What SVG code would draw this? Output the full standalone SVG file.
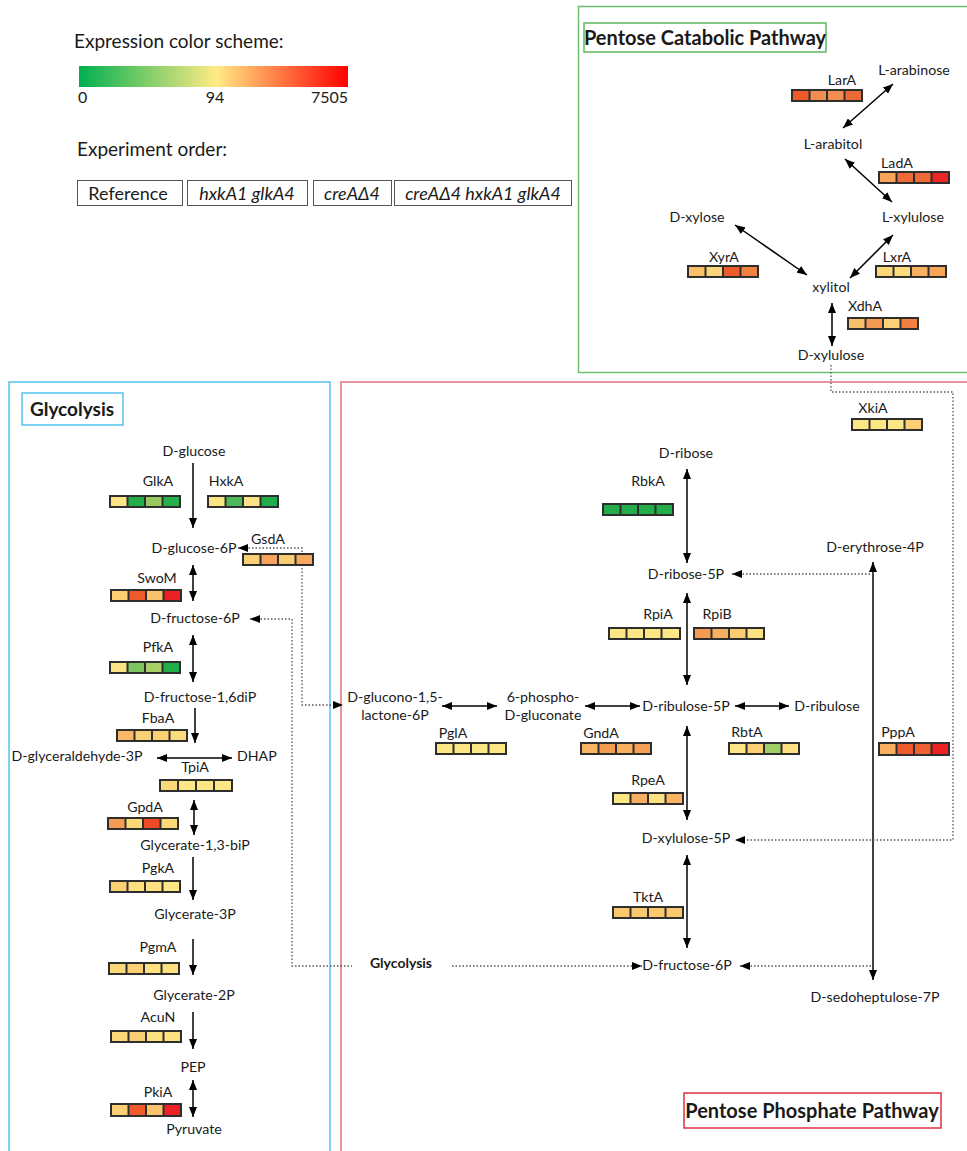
<svg xmlns="http://www.w3.org/2000/svg" width="967" height="1151" viewBox="0 0 967 1151">
<style>
.t{font-family:Lato,"Liberation Sans",sans-serif;font-size:14.2px;fill:#1a1a1a;text-anchor:middle}
.s{text-anchor:start}
.e{text-anchor:end}
.i{font-style:italic}
.bd{font-weight:bold}
.bf{fill:#2e2e2e}
.ln{stroke:#000;stroke-width:1.5;fill:none}
.dt{stroke:#555;stroke-width:1.3;stroke-dasharray:1.5 2;fill:none}
.lb{fill:#fff;stroke:#555;stroke-width:1}
</style>
<defs>
<linearGradient id="grad" x1="0" y1="0" x2="1" y2="0">
<stop offset="0" stop-color="#00b050"/>
<stop offset="0.51" stop-color="#ffeb84"/>
<stop offset="1" stop-color="#ff0000"/>
</linearGradient>
<marker id="ah" viewBox="0 0 10 8" refX="10" refY="4" markerWidth="10" markerHeight="8" markerUnits="userSpaceOnUse" orient="auto-start-reverse">
<path d="M0,0 L10,4 L0,8 z" fill="#000"/>
</marker>
</defs>
<rect width="967" height="1151" fill="#fff"/>

<!-- frames -->
<g id="frames">
<rect x="578.5" y="6.5" width="500" height="366" fill="none" stroke="#6cc070" stroke-width="1.5"/>
<rect x="9" y="382" width="321" height="820" fill="none" stroke="#55c2ee" stroke-width="1.5"/>
<rect x="341" y="382" width="700" height="820" fill="none" stroke="#e0707a" stroke-width="1.5"/>
</g>

<!-- legend -->
<g id="legend">
<text class="t s" x="74" y="48" style="font-size:19px">Expression color scheme:</text>
<rect x="79" y="66" width="269" height="21" fill="url(#grad)"/>
<text class="t s" x="78" y="103" style="font-size:16px">0</text>
<text class="t" x="215" y="103" style="font-size:16px">94</text>
<text class="t e" x="348" y="103" style="font-size:16px">7505</text>
<text class="t s" x="77" y="156" style="font-size:19px">Experiment order:</text>
<rect class="lb" x="77.5" y="180.5" width="105" height="25"/>
<rect class="lb" x="187.5" y="180.5" width="120" height="25"/>
<rect class="lb" x="313.5" y="180.5" width="78" height="25"/>
<rect class="lb" x="394.5" y="180.5" width="177" height="25"/>
<text class="t" x="128" y="200" style="font-size:18px">Reference</text>
<text class="t i" x="247" y="200" style="font-size:18px">hxkA1 glkA4</text>
<text class="t i" x="352" y="200" style="font-size:18px">creAΔ4</text>
<text class="t i" x="483" y="200" style="font-size:18px">creAΔ4 hxkA1 glkA4</text>
</g>

<!-- titles -->
<g id="title-pcp">
<rect x="584" y="23" width="242" height="29" fill="#fff" stroke="#5cb85c" stroke-width="1.5"/>
<text class="t bd" x="705" y="45" style="font-size:20px">Pentose Catabolic Pathway</text>
</g>
<g id="title-gly">
<rect x="22" y="393" width="101" height="32" fill="#fff" stroke="#55c2ee" stroke-width="1.5"/>
<text class="t bd" x="72" y="416" style="font-size:19px">Glycolysis</text>
</g>
<g id="title-ppp">
<rect x="684" y="1093" width="257" height="35" fill="#fff" stroke="#e03040" stroke-width="1.5"/>
<text class="t bd" x="812" y="1118" style="font-size:20px">Pentose Phosphate Pathway</text>
</g>

<!-- connectors -->
<g id="connectors">
<line class="ln" x1="843" y1="128" x2="893" y2="84" marker-start="url(#ah)" marker-end="url(#ah)"/>
<line class="ln" x1="845" y1="159" x2="892" y2="202" marker-start="url(#ah)" marker-end="url(#ah)"/>
<line class="ln" x1="735" y1="225" x2="807" y2="275" marker-start="url(#ah)" marker-end="url(#ah)"/>
<line class="ln" x1="850" y1="278" x2="893" y2="235" marker-start="url(#ah)" marker-end="url(#ah)"/>
<line class="ln" x1="832" y1="303" x2="832" y2="346" marker-start="url(#ah)" marker-end="url(#ah)"/>

<line class="ln" x1="193" y1="463" x2="193" y2="528" marker-end="url(#ah)"/>
<line class="ln" x1="193" y1="565" x2="193" y2="601" marker-start="url(#ah)" marker-end="url(#ah)"/>
<line class="ln" x1="193" y1="635" x2="193" y2="682" marker-start="url(#ah)" marker-end="url(#ah)"/>
<line class="ln" x1="195" y1="708" x2="195" y2="743" marker-end="url(#ah)"/>
<line class="ln" x1="157" y1="758" x2="232" y2="758" marker-start="url(#ah)" marker-end="url(#ah)"/>
<line class="ln" x1="194" y1="800" x2="194" y2="835" marker-start="url(#ah)" marker-end="url(#ah)"/>
<line class="ln" x1="193" y1="857" x2="193" y2="900" marker-end="url(#ah)"/>
<line class="ln" x1="193" y1="939" x2="193" y2="975" marker-end="url(#ah)"/>
<line class="ln" x1="193" y1="1012" x2="193" y2="1049" marker-end="url(#ah)"/>
<line class="ln" x1="193" y1="1080" x2="193" y2="1117" marker-start="url(#ah)" marker-end="url(#ah)"/>

<line class="ln" x1="687" y1="469" x2="687" y2="563" marker-start="url(#ah)" marker-end="url(#ah)"/>
<line class="ln" x1="687" y1="593" x2="687" y2="685" marker-start="url(#ah)" marker-end="url(#ah)"/>
<line class="ln" x1="687" y1="726" x2="687" y2="820" marker-start="url(#ah)" marker-end="url(#ah)"/>
<line class="ln" x1="687" y1="855" x2="687" y2="948" marker-start="url(#ah)" marker-end="url(#ah)"/>
<line class="ln" x1="442" y1="706" x2="497" y2="706" marker-start="url(#ah)" marker-end="url(#ah)"/>
<line class="ln" x1="585" y1="706" x2="640" y2="706" marker-start="url(#ah)" marker-end="url(#ah)"/>
<line class="ln" x1="735" y1="706" x2="789" y2="706" marker-start="url(#ah)" marker-end="url(#ah)"/>
<line class="ln" x1="873" y1="562" x2="873" y2="980" marker-start="url(#ah)" marker-end="url(#ah)"/>

<path class="dt" d="M238,548 L302,548 L302,705 L343,705" marker-start="url(#ah)" marker-end="url(#ah)"/>
<path class="dt" d="M250,619 L292,619 L292,966 L352,966" marker-start="url(#ah)"/>
<path class="dt" d="M452,966 L642,966" marker-end="url(#ah)"/>
<path class="dt" d="M732,574 L873,574" marker-start="url(#ah)"/>
<path class="dt" d="M831,365 L831,392 L953,392 L953,840 L735,840" marker-end="url(#ah)"/>
<path class="dt" d="M740,966 L872,966" marker-start="url(#ah)"/>
</g>

<!-- pentose catabolic nodes -->
<g id="L-arabinose"><text class="t" x="914" y="75">L-arabinose</text></g>
<g id="L-arabitol"><text class="t" x="833" y="149">L-arabitol</text></g>
<g id="D-xylose"><text class="t" x="697" y="222">D-xylose</text></g>
<g id="L-xylulose"><text class="t" x="913" y="222">L-xylulose</text></g>
<g id="xylitol"><text class="t" x="831" y="292">xylitol</text></g>
<g id="D-xylulose"><text class="t" x="831" y="360">D-xylulose</text></g>

<g id="LarA"><text class="t" x="842" y="85">LarA</text>
<g transform="translate(791,89)"><rect class="bf" width="72" height="13"/><rect x="2" y="2" width="15.5" height="9" fill="#ee5a2a"/><rect x="19.5" y="2" width="15.5" height="9" fill="#f28f4e"/><rect x="37" y="2" width="15.5" height="9" fill="#f28f4e"/><rect x="54.5" y="2" width="15.5" height="9" fill="#ee6a35"/></g></g>
<g id="LadA"><text class="t" x="897" y="168">LadA</text>
<g transform="translate(878,171)"><rect class="bf" width="72" height="13"/><rect x="2" y="2" width="15.5" height="9" fill="#f6a55a"/><rect x="19.5" y="2" width="15.5" height="9" fill="#f06a35"/><rect x="37" y="2" width="15.5" height="9" fill="#f06a35"/><rect x="54.5" y="2" width="15.5" height="9" fill="#ec2525"/></g></g>
<g id="XyrA"><text class="t" x="724" y="262">XyrA</text>
<g transform="translate(687,265)"><rect class="bf" width="72" height="13"/><rect x="2" y="2" width="15.5" height="9" fill="#f8c068"/><rect x="19.5" y="2" width="15.5" height="9" fill="#fbd57a"/><rect x="37" y="2" width="15.5" height="9" fill="#ee5a2a"/><rect x="54.5" y="2" width="15.5" height="9" fill="#f28040"/></g></g>
<g id="LxrA"><text class="t" x="897" y="262">LxrA</text>
<g transform="translate(875,265)"><rect class="bf" width="72" height="13"/><rect x="2" y="2" width="15.5" height="9" fill="#fcd878"/><rect x="19.5" y="2" width="15.5" height="9" fill="#fcdc7c"/><rect x="37" y="2" width="15.5" height="9" fill="#f8b060"/><rect x="54.5" y="2" width="15.5" height="9" fill="#f8a558"/></g></g>
<g id="XdhA"><text class="t" x="865" y="311">XdhA</text>
<g transform="translate(847,317)"><rect class="bf" width="72" height="13"/><rect x="2" y="2" width="15.5" height="9" fill="#f9c26a"/><rect x="19.5" y="2" width="15.5" height="9" fill="#f59a52"/><rect x="37" y="2" width="15.5" height="9" fill="#fbd27a"/><rect x="54.5" y="2" width="15.5" height="9" fill="#f28040"/></g></g>

<!-- glycolysis nodes -->
<g id="D-glucose"><text class="t" x="194" y="456">D-glucose</text></g>
<g id="D-glucose-6P"><text class="t" x="194" y="553">D-glucose-6P</text></g>
<g id="D-fructose-6P-g"><text class="t" x="195" y="623">D-fructose-6P</text></g>
<g id="D-fructose-16diP"><text class="t" x="200" y="702">D-fructose-1,6diP</text></g>
<g id="D-glyceraldehyde-3P"><text class="t" x="77" y="761">D-glyceraldehyde-3P</text></g>
<g id="DHAP"><text class="t s" x="237" y="761">DHAP</text></g>
<g id="Glycerate-13-biP"><text class="t" x="195" y="850">Glycerate-1,3-biP</text></g>
<g id="Glycerate-3P"><text class="t" x="195" y="919">Glycerate-3P</text></g>
<g id="Glycerate-2P"><text class="t" x="194" y="1000">Glycerate-2P</text></g>
<g id="PEP"><text class="t" x="193" y="1072">PEP</text></g>
<g id="Pyruvate"><text class="t" x="194" y="1134">Pyruvate</text></g>

<g id="GlkA"><text class="t" x="158" y="486">GlkA</text>
<g transform="translate(109,495)"><rect class="bf" width="72" height="13"/><rect x="2" y="2" width="15.5" height="9" fill="#fbe486"/><rect x="19.5" y="2" width="15.5" height="9" fill="#22ac4a"/><rect x="37" y="2" width="15.5" height="9" fill="#97c95e"/><rect x="54.5" y="2" width="15.5" height="9" fill="#25b04c"/></g></g>
<g id="HxkA"><text class="t" x="226" y="486">HxkA</text>
<g transform="translate(207,495)"><rect class="bf" width="72" height="13"/><rect x="2" y="2" width="15.5" height="9" fill="#fbe486"/><rect x="19.5" y="2" width="15.5" height="9" fill="#4cb85a"/><rect x="37" y="2" width="15.5" height="9" fill="#fbe486"/><rect x="54.5" y="2" width="15.5" height="9" fill="#1fae4a"/></g></g>
<g id="GsdA"><text class="t" x="268" y="544">GsdA</text>
<g transform="translate(242,553)"><rect class="bf" width="72" height="13"/><rect x="2" y="2" width="15.5" height="9" fill="#fbd074"/><rect x="19.5" y="2" width="15.5" height="9" fill="#f6a25a"/><rect x="37" y="2" width="15.5" height="9" fill="#fbcd72"/><rect x="54.5" y="2" width="15.5" height="9" fill="#f6a85c"/></g></g>
<g id="SwoM"><text class="t" x="157" y="583">SwoM</text>
<g transform="translate(110,589)"><rect class="bf" width="72" height="13"/><rect x="2" y="2" width="15.5" height="9" fill="#fbd074"/><rect x="19.5" y="2" width="15.5" height="9" fill="#ee5a2a"/><rect x="37" y="2" width="15.5" height="9" fill="#fbc46c"/><rect x="54.5" y="2" width="15.5" height="9" fill="#ec2025"/></g></g>
<g id="PfkA"><text class="t" x="158" y="652">PfkA</text>
<g transform="translate(109,661)"><rect class="bf" width="72" height="13"/><rect x="2" y="2" width="15.5" height="9" fill="#fbe486"/><rect x="19.5" y="2" width="15.5" height="9" fill="#7ec460"/><rect x="37" y="2" width="15.5" height="9" fill="#a8d068"/><rect x="54.5" y="2" width="15.5" height="9" fill="#1fae4a"/></g></g>
<g id="FbaA"><text class="t" x="158" y="723">FbaA</text>
<g transform="translate(116,729)"><rect class="bf" width="72" height="13"/><rect x="2" y="2" width="15.5" height="9" fill="#f9b865"/><rect x="19.5" y="2" width="15.5" height="9" fill="#fbd074"/><rect x="37" y="2" width="15.5" height="9" fill="#fbd074"/><rect x="54.5" y="2" width="15.5" height="9" fill="#fbdc7c"/></g></g>
<g id="TpiA"><text class="t" x="195" y="772">TpiA</text>
<g transform="translate(159,779)"><rect class="bf" width="74" height="13"/><rect x="2" y="2" width="16" height="9" fill="#fbd878"/><rect x="20" y="2" width="16" height="9" fill="#fde684"/><rect x="38" y="2" width="16" height="9" fill="#fde684"/><rect x="56" y="2" width="16" height="9" fill="#fde684"/></g></g>
<g id="GpdA"><text class="t" x="145" y="812">GpdA</text>
<g transform="translate(107,817)"><rect class="bf" width="72" height="13"/><rect x="2" y="2" width="15.5" height="9" fill="#f59a52"/><rect x="19.5" y="2" width="15.5" height="9" fill="#fbd878"/><rect x="37" y="2" width="15.5" height="9" fill="#ee4a28"/><rect x="54.5" y="2" width="15.5" height="9" fill="#fbd878"/></g></g>
<g id="PgkA"><text class="t" x="158" y="873">PgkA</text>
<g transform="translate(109,880)"><rect class="bf" width="72" height="13"/><rect x="2" y="2" width="15.5" height="9" fill="#fbd074"/><rect x="19.5" y="2" width="15.5" height="9" fill="#fde080"/><rect x="37" y="2" width="15.5" height="9" fill="#fde080"/><rect x="54.5" y="2" width="15.5" height="9" fill="#fde684"/></g></g>
<g id="PgmA"><text class="t" x="158" y="952">PgmA</text>
<g transform="translate(108,962)"><rect class="bf" width="72" height="13"/><rect x="2" y="2" width="15.5" height="9" fill="#fbd878"/><rect x="19.5" y="2" width="15.5" height="9" fill="#fbd074"/><rect x="37" y="2" width="15.5" height="9" fill="#fde080"/><rect x="54.5" y="2" width="15.5" height="9" fill="#fde080"/></g></g>
<g id="AcuN"><text class="t" x="158" y="1022">AcuN</text>
<g transform="translate(110,1030)"><rect class="bf" width="72" height="13"/><rect x="2" y="2" width="15.5" height="9" fill="#fbd878"/><rect x="19.5" y="2" width="15.5" height="9" fill="#fbcd72"/><rect x="37" y="2" width="15.5" height="9" fill="#fde080"/><rect x="54.5" y="2" width="15.5" height="9" fill="#fde080"/></g></g>
<g id="PkiA"><text class="t" x="158" y="1097">PkiA</text>
<g transform="translate(110,1103)"><rect class="bf" width="72" height="14"/><rect x="2" y="2" width="15.5" height="10" fill="#fbd074"/><rect x="19.5" y="2" width="15.5" height="10" fill="#ee5a2a"/><rect x="37" y="2" width="15.5" height="10" fill="#fbc46c"/><rect x="54.5" y="2" width="15.5" height="10" fill="#ec2025"/></g></g>

<!-- PPP nodes -->
<g id="D-ribose"><text class="t" x="686" y="458">D-ribose</text></g>
<g id="D-erythrose-4P"><text class="t" x="875" y="552">D-erythrose-4P</text></g>
<g id="D-ribose-5P"><text class="t" x="686" y="579">D-ribose-5P</text></g>
<g id="D-glucono-lactone-6P"><text class="t" x="395" y="702">D-glucono-1,5-</text><text class="t" x="395" y="720">lactone-6P</text></g>
<g id="6-phospho-D-gluconate"><text class="t" x="543" y="702">6-phospho-</text><text class="t" x="543" y="720">D-gluconate</text></g>
<g id="D-ribulose-5P"><text class="t" x="686" y="711">D-ribulose-5P</text></g>
<g id="D-ribulose"><text class="t" x="827" y="711">D-ribulose</text></g>
<g id="D-xylulose-5P"><text class="t" x="686" y="843">D-xylulose-5P</text></g>
<g id="D-fructose-6P-p"><text class="t" x="687" y="970">D-fructose-6P</text></g>
<g id="D-sedoheptulose-7P"><text class="t" x="875" y="1002">D-sedoheptulose-7P</text></g>
<g id="Glycolysis-link"><text class="t bd" x="401" y="968" style="font-size:14px">Glycolysis</text></g>

<g id="XkiA"><text class="t" x="873" y="413">XkiA</text>
<g transform="translate(851,418)"><rect class="bf" width="72" height="13"/><rect x="2" y="2" width="15.5" height="9" fill="#fde684"/><rect x="19.5" y="2" width="15.5" height="9" fill="#fde684"/><rect x="37" y="2" width="15.5" height="9" fill="#fde684"/><rect x="54.5" y="2" width="15.5" height="9" fill="#fbd074"/></g></g>
<g id="RbkA"><text class="t" x="648" y="486">RbkA</text>
<g transform="translate(602,503)"><rect class="bf" width="72" height="13"/><rect x="2" y="2" width="15.5" height="9" fill="#22ac4a"/><rect x="19.5" y="2" width="15.5" height="9" fill="#22ac4a"/><rect x="37" y="2" width="15.5" height="9" fill="#22ac4a"/><rect x="54.5" y="2" width="15.5" height="9" fill="#22ac4a"/></g></g>
<g id="RpiA"><text class="t" x="658" y="619">RpiA</text>
<g transform="translate(608,627)"><rect class="bf" width="73" height="13"/><rect x="2" y="2" width="15.5" height="9" fill="#fde684"/><rect x="19.5" y="2" width="15.5" height="9" fill="#fde684"/><rect x="37" y="2" width="15.5" height="9" fill="#fde684"/><rect x="54.5" y="2" width="16.5" height="9" fill="#fde684"/></g></g>
<g id="RpiB"><text class="t" x="717" y="619">RpiB</text>
<g transform="translate(693,627)"><rect class="bf" width="72" height="13"/><rect x="2" y="2" width="15.5" height="9" fill="#f59a52"/><rect x="19.5" y="2" width="15.5" height="9" fill="#f8b060"/><rect x="37" y="2" width="15.5" height="9" fill="#fbcd72"/><rect x="54.5" y="2" width="15.5" height="9" fill="#fde080"/></g></g>
<g id="PglA"><text class="t" x="453" y="738">PglA</text>
<g transform="translate(435,742)"><rect class="bf" width="72" height="13"/><rect x="2" y="2" width="15.5" height="9" fill="#fde684"/><rect x="19.5" y="2" width="15.5" height="9" fill="#fde684"/><rect x="37" y="2" width="15.5" height="9" fill="#fde684"/><rect x="54.5" y="2" width="15.5" height="9" fill="#fde684"/></g></g>
<g id="GndA"><text class="t" x="601" y="738">GndA</text>
<g transform="translate(580,742)"><rect class="bf" width="72" height="13"/><rect x="2" y="2" width="15.5" height="9" fill="#f8b462"/><rect x="19.5" y="2" width="15.5" height="9" fill="#f59a52"/><rect x="37" y="2" width="15.5" height="9" fill="#f8b060"/><rect x="54.5" y="2" width="15.5" height="9" fill="#f5a055"/></g></g>
<g id="RbtA"><text class="t" x="747" y="737">RbtA</text>
<g transform="translate(728,742)"><rect class="bf" width="72" height="13"/><rect x="2" y="2" width="15.5" height="9" fill="#fde684"/><rect x="19.5" y="2" width="15.5" height="9" fill="#fbd074"/><rect x="37" y="2" width="15.5" height="9" fill="#a0cf64"/><rect x="54.5" y="2" width="15.5" height="9" fill="#fde080"/></g></g>
<g id="PppA"><text class="t" x="898" y="737">PppA</text>
<g transform="translate(878,742)"><rect class="bf" width="72" height="14"/><rect x="2" y="2" width="15.5" height="10" fill="#f8b060"/><rect x="19.5" y="2" width="15.5" height="10" fill="#ee5a2a"/><rect x="37" y="2" width="15.5" height="10" fill="#f06030"/><rect x="54.5" y="2" width="15.5" height="10" fill="#ec2025"/></g></g>
<g id="RpeA"><text class="t" x="648" y="785">RpeA</text>
<g transform="translate(612,792)"><rect class="bf" width="72" height="13"/><rect x="2" y="2" width="15.5" height="9" fill="#fde684"/><rect x="19.5" y="2" width="15.5" height="9" fill="#f8b060"/><rect x="37" y="2" width="15.5" height="9" fill="#fde080"/><rect x="54.5" y="2" width="15.5" height="9" fill="#f8b462"/></g></g>
<g id="TktA"><text class="t" x="648" y="902">TktA</text>
<g transform="translate(612,906)"><rect class="bf" width="72" height="13"/><rect x="2" y="2" width="15.5" height="9" fill="#fbc86e"/><rect x="19.5" y="2" width="15.5" height="9" fill="#fbc86e"/><rect x="37" y="2" width="15.5" height="9" fill="#fbc86e"/><rect x="54.5" y="2" width="15.5" height="9" fill="#fbc86e"/></g></g>
</svg>
